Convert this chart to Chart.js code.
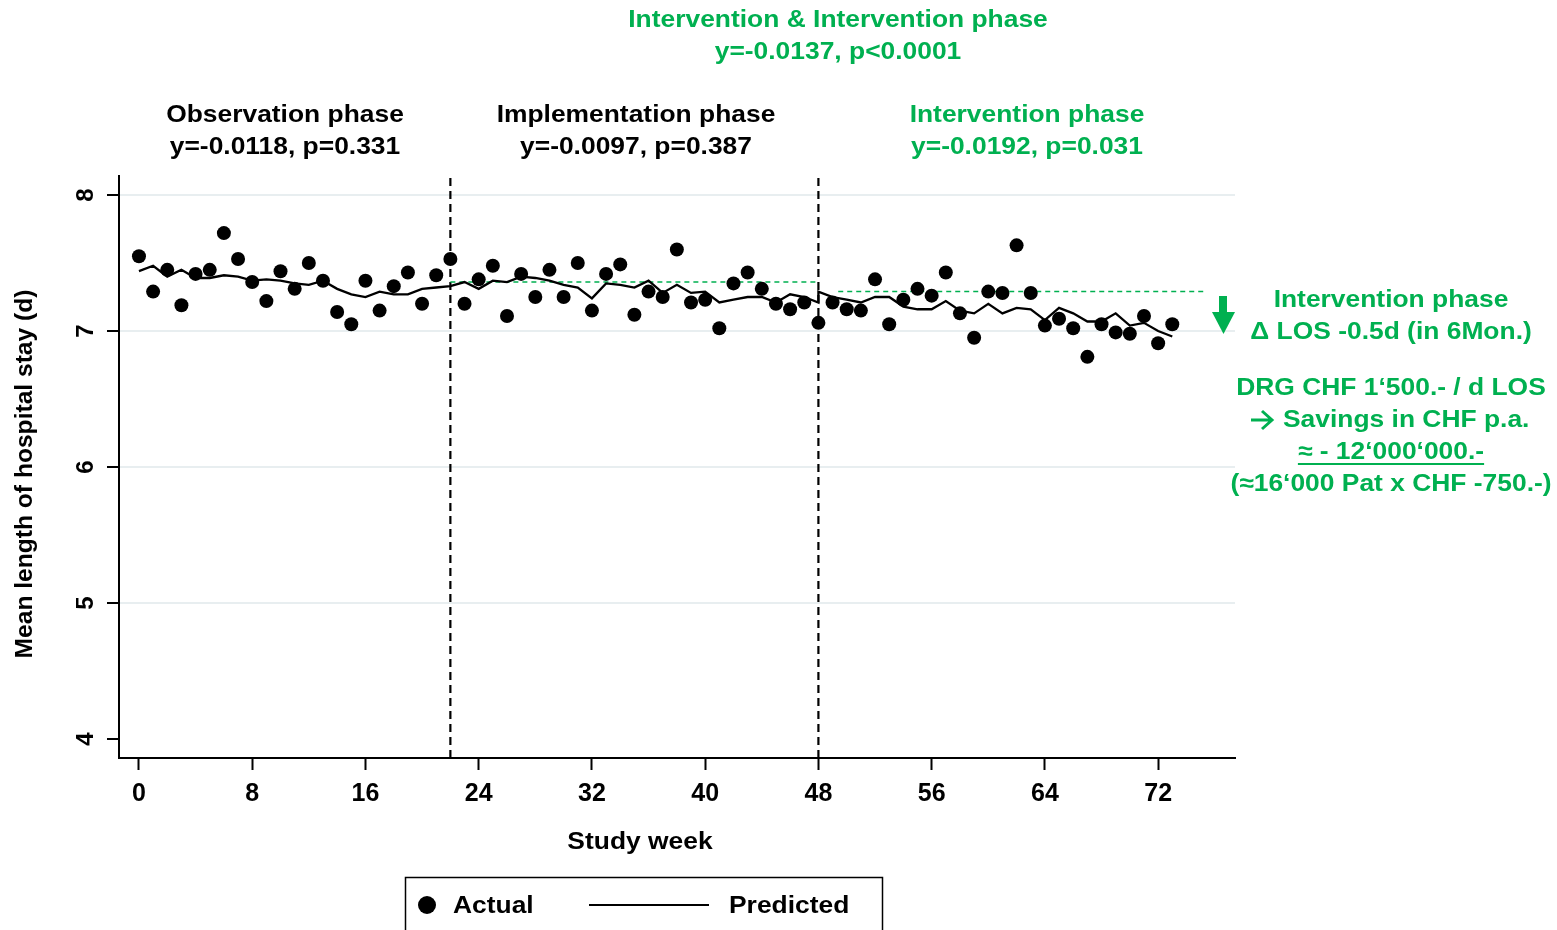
<!DOCTYPE html>
<html>
<head>
<meta charset="utf-8">
<script src="https://cdn.jsdelivr.net/npm/chart.js@4.4.1/dist/chart.umd.min.js"></script>
<style>
  html, body { margin: 0; padding: 0; background: #fff; }
  #wrap { width: 1557px; height: 930px; }
</style>
</head>
<body>
<div id="wrap"><canvas id="chart" width="1557" height="930"></canvas></div>
<script>
// data
const weeks = [];
for (let w = 0; w <= 73; w++) weeks.push(w);

const actual = [
  7.55, 7.29, 7.45, 7.19, 7.42, 7.45, 7.72, 7.53, 7.36, 7.22,
  7.44, 7.31, 7.50, 7.37, 7.14, 7.05, 7.37, 7.15, 7.33, 7.43,
  7.20, 7.41, 7.53, 7.20, 7.38, 7.48, 7.11, 7.42, 7.25, 7.45,
  7.25, 7.50, 7.15, 7.42, 7.49, 7.12, 7.29, 7.25, 7.60, 7.21,
  7.23, 7.02, 7.35, 7.43, 7.31, 7.20, 7.16, 7.21, 7.06, 7.21,
  7.16, 7.15, 7.38, 7.05, 7.23, 7.31, 7.26, 7.43, 7.13, 6.95,
  7.29, 7.28, 7.63, 7.28, 7.04, 7.09, 7.02, 6.81, 7.05, 6.99,
  6.98, 7.11, 6.91, 7.05
];

// predicted line, week 48 appears twice (level change at phase start)
const predWeeks = [
  0, 1, 2, 3, 4, 5, 6, 7, 8, 9, 10, 11, 12, 13, 14, 15, 16, 17, 18, 19,
  20, 21, 22, 23, 24, 25, 26, 27, 28, 29, 30, 31, 32, 33, 34, 35, 36, 37, 38, 39,
  40, 41, 42, 43, 44, 45, 46, 47, 48, 48, 49, 50, 51, 52, 53, 54, 55, 56, 57, 58,
  59, 60, 61, 62, 63, 64, 65, 66, 67, 68, 69, 70, 71, 72, 73
];
const predicted = [
  7.44, 7.48, 7.40, 7.45, 7.39, 7.39, 7.41, 7.40, 7.37, 7.38,
  7.37, 7.35, 7.34, 7.37, 7.31, 7.27, 7.25, 7.29, 7.27, 7.27,
  7.31, 7.32, 7.33, 7.36, 7.31, 7.37, 7.36, 7.40, 7.39, 7.37,
  7.34, 7.32, 7.24, 7.35, 7.34, 7.32, 7.37, 7.28, 7.34, 7.28,
  7.29, 7.21, 7.23, 7.25, 7.25, 7.21, 7.27, 7.25, 7.21, 7.29,
  7.25, 7.23, 7.21, 7.25, 7.25, 7.18, 7.16, 7.16, 7.22, 7.15,
  7.13, 7.20, 7.13, 7.17, 7.16, 7.08, 7.17, 7.13, 7.07, 7.07,
  7.13, 7.04, 7.06, 7.00, 6.96
];

const phaseBreaks = [22, 48];
const refA = { x: [22, 48], y: [7.36, 7.36] };
const refB = { x: [49.4, 75.4], y: [7.29, 7.29] };

const yTicks = [4, 5, 6, 7, 8];
const xMin = -1.41, xMax = 77.43;
const yMin = 3.86, yMax = 8.14;

const green = '#00b050';
const FONT = '"Liberation Sans", Arial, Helvetica, sans-serif';
const SX = 1.1; // the original figure is a bit stretched horizontally

function pts(xs, ys) { return xs.map((x, i) => ({ x: x, y: ys[i] })); }

const datasets = [
  {
    label: 'Actual',
    data: pts(weeks, actual),
    showLine: false,
    pointRadius: 7,
    pointBackgroundColor: '#000',
    pointBorderWidth: 0
  },
  {
    label: 'Predicted',
    data: pts(predWeeks, predicted),
    showLine: true,
    borderColor: '#000',
    borderWidth: 2.3,
    pointRadius: 0,
    tension: 0
  },
  {
    label: 'refA',
    data: pts(refA.x, refA.y),
    showLine: true,
    borderColor: green,
    borderWidth: 1.5,
    borderDash: [5, 4],
    pointRadius: 0
  },
  {
    label: 'refB',
    data: pts(refB.x, refB.y),
    showLine: true,
    borderColor: green,
    borderWidth: 1.5,
    borderDash: [5, 4],
    pointRadius: 0
  }
];
phaseBreaks.forEach(function (b) {
  datasets.push({
    label: 'break' + b,
    data: [{ x: b, y: yMin }, { x: b, y: yMax }],
    showLine: true,
    borderColor: '#000',
    borderWidth: 2.2,
    borderDash: [8, 5],
    pointRadius: 0
  });
});

// horizontally stretched text, x is the anchor given by textAlign
function sText(ctx, t, x, y) {
  ctx.save();
  ctx.translate(x, y);
  ctx.scale(SX, 1);
  ctx.fillText(t, 0, 0);
  ctx.restore();
}

function textLines(ctx, lines, cx, y0, lh, color) {
  ctx.fillStyle = color;
  lines.forEach(function (t, i) { sText(ctx, t, cx, y0 + i * lh); });
}

const extras = {
  id: 'extras',
  afterDraw(chart) {
    const ctx = chart.ctx;
    const ys = chart.scales.y;
    ctx.save();
    ctx.textAlign = 'center';
    ctx.textBaseline = 'middle';

    // rotated y tick labels
    ctx.font = 'bold 24px ' + FONT;
    ctx.fillStyle = '#000';
    yTicks.forEach(function (v) {
      ctx.save();
      ctx.translate(86, ys.getPixelForValue(v));
      ctx.rotate(-Math.PI / 2);
      ctx.fillText(String(v), 0, 0);
      ctx.restore();
    });

    // axis titles
    ctx.save();
    ctx.translate(25, 474);
    ctx.rotate(-Math.PI / 2);
    ctx.font = 'bold 24.6px ' + FONT;
    ctx.fillText('Mean length of hospital stay (d)', 0, 0);
    ctx.restore();
    sText(ctx, 'Study week', 640, 842);

    // phase headers
    textLines(ctx, ['Observation phase', 'y=-0.0118, p=0.331'], 285, 115, 32, '#000');
    textLines(ctx, ['Implementation phase', 'y=-0.0097, p=0.387'], 636, 115, 32, '#000');
    textLines(ctx, ['Intervention phase', 'y=-0.0192, p=0.031'], 1027, 115, 32, green);
    textLines(ctx, ['Intervention & Intervention phase', 'y=-0.0137, p<0.0001'], 838, 20, 32, green);

    // right hand notes
    textLines(ctx, ['Intervention phase', '\u0394 LOS -0.5d (in 6Mon.)'], 1391, 300, 32, green);
    textLines(ctx, ['DRG CHF 1\u2018500.- / d LOS'], 1391, 388, 32, green);
    textLines(ctx, ['\u2248 - 12\u2018000\u2018000.-', '(\u224816\u2018000 Pat x CHF -750.-)'], 1391, 452, 32, green);
    ctx.textAlign = 'left';
    sText(ctx, 'Savings in CHF p.a.', 1283, 420);
    // arrow in front of "Savings"
    ctx.strokeStyle = green;
    ctx.lineWidth = 3;
    ctx.beginPath();
    ctx.moveTo(1251, 420);
    ctx.lineTo(1271, 420);
    ctx.moveTo(1262, 411);
    ctx.lineTo(1272, 420);
    ctx.lineTo(1262, 429);
    ctx.stroke();
    // underline of the savings figure
    const uw = ctx.measureText('\u2248 - 12\u2018000\u2018000.-').width * SX;
    ctx.lineWidth = 2;
    ctx.beginPath();
    ctx.moveTo(1391 - uw / 2, 464);
    ctx.lineTo(1391 + uw / 2, 464);
    ctx.stroke();

    // green arrow
    ctx.fillStyle = green;
    ctx.fillRect(1219, 296, 8, 17);
    ctx.beginPath();
    ctx.moveTo(1212, 312);
    ctx.lineTo(1235, 312);
    ctx.lineTo(1223.5, 334);
    ctx.closePath();
    ctx.fill();

    // legend box
    ctx.strokeStyle = '#000';
    ctx.lineWidth = 1.5;
    ctx.strokeRect(405.5, 877.5, 477, 80);
    ctx.fillStyle = '#000';
    ctx.beginPath();
    ctx.arc(427, 905, 9, 0, Math.PI * 2);
    ctx.fill();
    ctx.lineWidth = 2;
    ctx.beginPath();
    ctx.moveTo(589, 905);
    ctx.lineTo(709, 905);
    ctx.stroke();
    sText(ctx, 'Actual', 453, 906);
    sText(ctx, 'Predicted', 729, 906);
    ctx.restore();
  }
};

new Chart(document.getElementById('chart'), {
  type: 'scatter',
  data: { datasets: datasets },
  options: {
    responsive: false,
    animation: false,
    layout: { padding: { left: 0, top: 176, right: 322, bottom: 0 } },
    plugins: { legend: { display: false }, tooltip: { enabled: false } },
    scales: {
      x: {
        type: 'linear',
        min: xMin,
        max: xMax,
        afterFit(scale) { scale.height = 172; },
        ticks: {
          stepSize: 8,
          includeBounds: false,
          color: '#000',
          padding: 9,
          font: { family: FONT, size: 25, weight: 'bold' }
        },
        grid: {
          drawOnChartArea: false,
          tickLength: 12,
          tickWidth: 2,
          tickColor: '#000'
        },
        border: { color: '#000', width: 2 }
      },
      y: {
        type: 'linear',
        min: yMin,
        max: yMax,
        afterFit(scale) { scale.width = 119; },
        ticks: { stepSize: 1, includeBounds: false, display: false },
        grid: {
          color: function (c) { return c.tick && c.tick.value === 4 ? 'rgba(0,0,0,0)' : '#e8eef0'; },
          lineWidth: 2,
          tickLength: 12,
          tickWidth: 2,
          tickColor: '#000'
        },
        border: { color: '#000', width: 2 }
      }
    }
  },
  plugins: [extras]
});
</script>
</body>
</html>
